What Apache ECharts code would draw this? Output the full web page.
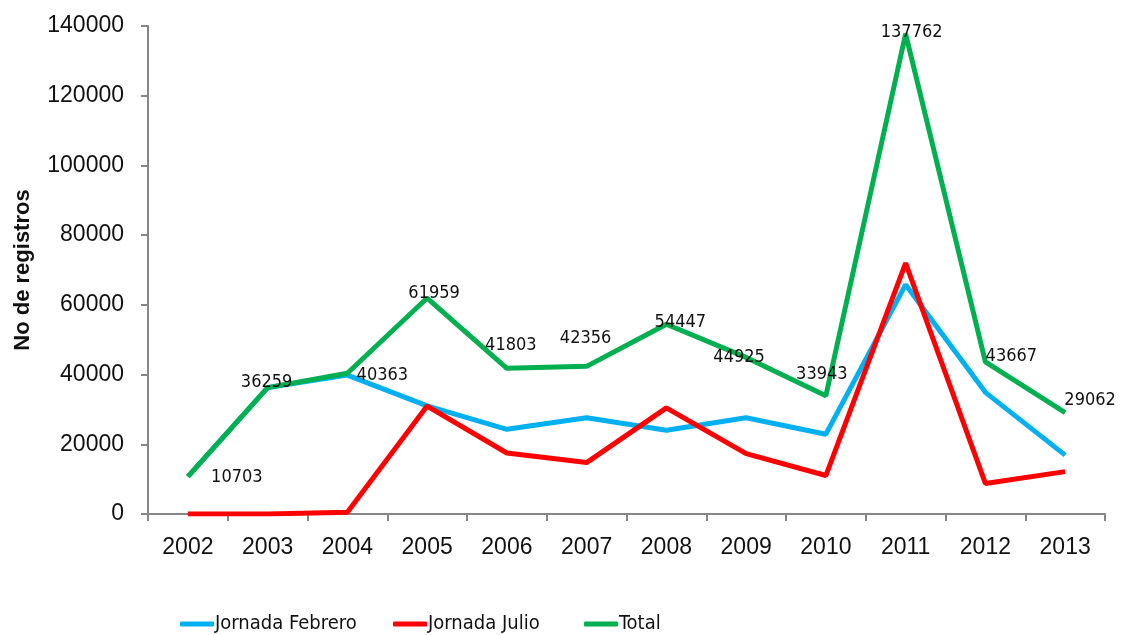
<!DOCTYPE html>
<html>
<head>
<meta charset="utf-8">
<script src="https://cdn.jsdelivr.net/npm/echarts@6/dist/echarts.min.js"></script>
<style>
  html, body { margin: 0; padding: 0; background: #fff; }
  #chart { width: 1121px; height: 635px; }
</style>
</head>
<body>
<div id="chart"></div>
<script>
// Data
const years = ['2002', '2003', '2004', '2005', '2006', '2007', '2008', '2009', '2010', '2011', '2012', '2013'];
const febrero = [10703, 36259, 39863, 31000, 24300, 27600, 24000, 27600, 22900, 65800, 34900, 16900];
const julio = [0, 0, 500, 30959, 17500, 14750, 30447, 17325, 11043, 71962, 8767, 12162];
const total = [10703, 36259, 40363, 61959, 41803, 42356, 54447, 44925, 33943, 137762, 43667, 29062];

// Label offsets (px) from each point of the Total line
const totalLabelOffsets = [
    [49, 1], [-1, -5], [35, 2], [7, -5], [4, -23], [-1, -28],
    [14, -2], [-7, 0], [-4, -21], [6, -1], [26, -5], [25, -12]
];

const tickFont = '"Liberation Sans", Arial, sans-serif';
const narrowFont = '"Liberation Sans Narrow", "DejaVu Sans Condensed", "Liberation Sans", sans-serif';
const axisColor = '#868686';

const chart = echarts.init(document.getElementById('chart'), null, { renderer: 'canvas' });

const lineSeries = (name, data, color) => ({
    name,
    type: 'line',
    data,
    symbol: 'none',
    lineStyle: { color, width: 5 },
    itemStyle: { color },
    animation: false
});

const totalSeries = lineSeries('Total', total.map((value, i) => ({
    value,
    label: {
        show: true,
        position: 'inside',
        offset: totalLabelOffsets[i],
        color: '#111',
        fontSize: 18,
        fontFamily: '"DejaVu Sans Condensed", "Noto Sans", sans-serif'
    }
})), '#00B050');
totalSeries.symbol = 'circle';
totalSeries.symbolSize = 0.01;
totalSeries.showSymbol = true;

const legendBase = (name, left) => ({
    data: [name],
    left,
    top: 609,
    itemWidth: 34,
    itemHeight: 5,
    itemGap: 0,
    textStyle: { fontSize: 20, color: '#111', fontFamily: narrowFont, padding: [0, 0, 0, -4] },
    icon: 'roundRect'
});

const option = {
    backgroundColor: '#fff',
    grid: { left: 148, top: 26, right: 16, bottom: 121, containLabel: false },
    legend: [
        legendBase('Jornada Febrero', 175),
        legendBase('Jornada Julio', 388),
        legendBase('Total', 579)
    ],
    xAxis: {
        type: 'category',
        data: years,
        boundaryGap: true,
        axisLine: { lineStyle: { color: axisColor, width: 2 } },
        axisTick: { show: true, length: 7, lineStyle: { color: axisColor, width: 2 } },
        axisLabel: { color: '#111', fontSize: 23, fontFamily: tickFont, margin: 22 },
        splitLine: { show: false }
    },
    yAxis: {
        type: 'value',
        min: 0,
        max: 140000,
        interval: 20000,
        name: 'No de registros',
        nameLocation: 'middle',
        nameGap: 114,
        nameTextStyle: { fontSize: 22, fontWeight: 'bold', color: '#111', fontFamily: tickFont },
        axisLine: { show: true, lineStyle: { color: axisColor, width: 2 } },
        axisTick: { show: true, length: 7, lineStyle: { color: axisColor, width: 2 } },
        axisLabel: {
            color: '#111', fontSize: 23, fontFamily: tickFont, margin: 24,
            formatter: (v) => String(v)
        },
        splitLine: { show: false }
    },
    series: [
        lineSeries('Jornada Febrero', febrero, '#00B0F0'),
        lineSeries('Jornada Julio', julio, '#FF0000'),
        totalSeries
    ]
};

chart.setOption(option);
</script>
</body>
</html>
